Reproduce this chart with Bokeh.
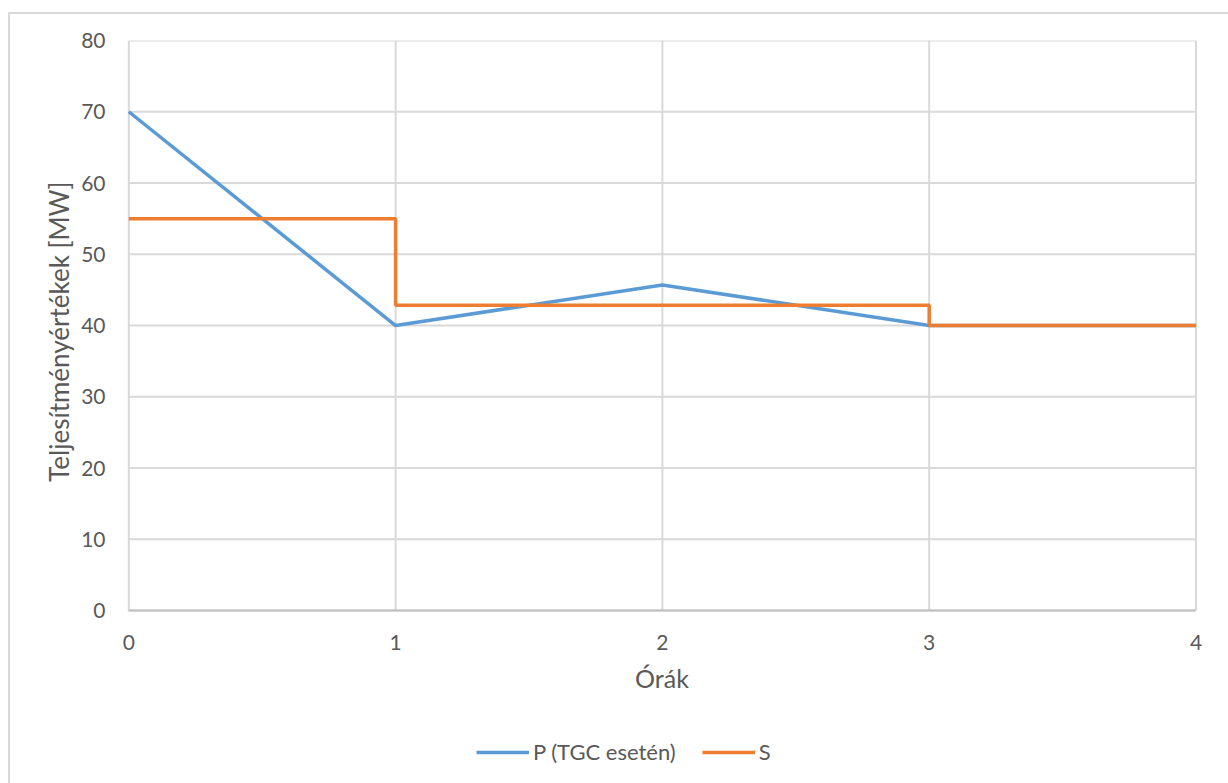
from bokeh.plotting import figure
from bokeh.models import Legend, LegendItem, FixedTicker, Range1d, Title
from bokeh.embed import file_html
from bokeh.resources import INLINE

# Hourly values
hours = [0, 1, 2, 3, 4]
p_tgc = [70, 40, 45.7, 40, 40]          # P (TGC esetén)
s_hours = [0, 1, 1, 3, 3, 4]            # step series S
s_values = [55, 55, 42.86, 42.86, 40, 40]

x_ticks = [0, 1, 2, 3, 4]
y_ticks = [0, 10, 20, 30, 40, 50, 60, 70, 80]

FONT = "Lato"
TEXT = "#595959"
GRID = "#d9d9d9"

# The frame runs down to the bottom edge (and a little past 0 and 4 sideways)
# so the legend and the edge tick labels sit inside it; axes and grid are
# bounded to the 0..4 x 0..80 data area.
p = figure(width=1220, height=771, output_backend="svg", toolbar_location=None,
           x_range=Range1d(-0.0461, 4.0469), y_range=Range1d(-24.55, 80),
           min_border_left=106, min_border_right=22,
           min_border_top=26, min_border_bottom=0)
p.styles = {"margin-left": "8px", "margin-top": "12px",
            "border-left": "2px solid #d9d9d9", "border-top": "2px solid #d9d9d9"}
p.outline_line_color = None
p.xgrid.visible = False
p.ygrid.visible = False

n_x, n_y = len(x_ticks), len(y_ticks)
p.segment(x0=x_ticks, y0=[y_ticks[0]] * n_x, x1=x_ticks, y1=[y_ticks[-1]] * n_x,
          line_color=GRID, line_width=2)
p.segment(x0=[x_ticks[0]] * n_y, y0=y_ticks, x1=[x_ticks[-1]] * n_y, y1=y_ticks,
          line_color=GRID, line_width=2)

p.xaxis.ticker = FixedTicker(ticks=x_ticks)
p.yaxis.ticker = FixedTicker(ticks=y_ticks)
for ax in (p.xaxis[0], p.yaxis[0]):
    ax.major_tick_line_color = None
    ax.minor_tick_line_color = None
    ax.major_label_text_font = FONT
    ax.major_label_text_font_size = "21px"
    ax.major_label_text_color = TEXT
    ax.axis_label_text_font = FONT
    ax.axis_label_text_font_size = "25px"
    ax.axis_label_text_color = TEXT
    ax.axis_label_text_font_style = "normal"
p.xaxis.axis_label = "Órák"
p.xaxis.fixed_location = 0
p.xaxis.bounds = (0, 4)
p.yaxis.bounds = (0, 80)
p.xaxis.axis_line_color = "#bfbfbf"
p.xaxis.axis_line_width = 2
p.yaxis.axis_line_color = None
p.xaxis.major_label_standoff = 18
p.yaxis.major_label_standoff = 5
p.xaxis.axis_label_standoff = 10

# value-axis title, placed along the 0..80 span
p.add_layout(Title(text="Teljesítményértékek [MW]", align="right", offset=141,
                   text_font=FONT, text_font_size="26px", text_color=TEXT,
                   text_font_style="normal", standoff=8), "left")

r_p = p.line(hours, p_tgc, line_color="#5B9BD5", line_width=3.5)
r_s = p.line(s_hours, s_values, line_color="#ED7D31", line_width=3.5)

legend = Legend(items=[LegendItem(label="P (TGC esetén)", renderers=[r_p]),
                       LegendItem(label="S", renderers=[r_s])],
                orientation="horizontal", location=(360, 20),
                glyph_width=53, glyph_height=10, label_standoff=4, spacing=26,
                label_text_font=FONT, label_text_font_size="22px",
                label_text_color=TEXT, background_fill_alpha=0,
                border_line_color=None, padding=0, margin=0)
p.add_layout(legend, "center")

open("out.html", "w").write(file_html(p, INLINE))
